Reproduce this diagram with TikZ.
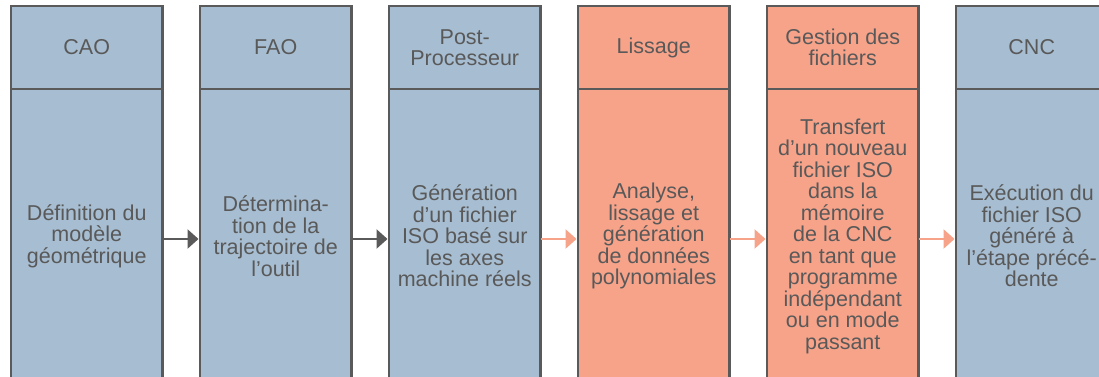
\documentclass[tikz,border=0pt]{standalone}
\usepackage{fontspec}
\setmainfont{Liberation Sans}
\usetikzlibrary{arrows.meta}
\definecolor{stepblue}{HTML}{A7BDD1}
\definecolor{stepsalmon}{HTML}{F6A38A}
\definecolor{edgegray}{HTML}{5A5A5A}
\definecolor{textgray}{HTML}{595959}

\begin{document}
\begin{tikzpicture}[
  x=1pt, y=1pt,
  cell/.style={draw=edgegray, line width=2.5pt, outer sep=0pt, inner sep=0pt,
    minimum width=151.5pt, text=textgray, align=center,
    font=\fontsize{21.5}{21.5}\selectfont},
  head/.style={cell, minimum height=83pt, anchor=north west},
  body/.style={cell, minimum height=294pt, anchor=north},
  cool/.style={fill=stepblue},
  warm/.style={fill=stepsalmon},
  flowdark/.style={draw=edgegray, line width=2.5pt, -{Triangle[length=11pt,width=19pt]}},
  flowwarm/.style={draw=stepsalmon, line width=2.5pt, -{Triangle[length=11pt,width=19pt]}}
]
\clip (0,0) rectangle (1099,-376);
\fill[white] (0,0) rectangle (1099,-376);

% column headers
\node[head, cool] (h1) at (11,-6)  {CAO};
\node[head, cool] (h2) at (200,-6) {FAO};
\node[head, cool] (h3) at (389,-6) {Post-\\Processeur};
\node[head, warm] (h4) at (578,-6) {Lissage};
\node[head, warm] (h5) at (767,-6) {Gestion des\\fichiers};
\node[head, cool] (h6) at (956,-6) {CNC};

% column bodies (they run on past the lower edge)
\node[body, cool] (b1) at (h1.south) {D\'efinition du\\mod\`ele\\g\'eom\'etrique};
\node[body, cool] (b2) at (h2.south) {D\'etermina-\\tion de la\\trajectoire de\\l’outil};
\node[body, cool] (b3) at (h3.south) {G\'en\'eration\\d’un fichier\\ISO bas\'e sur\\les axes\\machine r\'eels};
\node[body, warm] (b4) at (h4.south) {Analyse,\\lissage et\\g\'en\'eration\\de donn\'ees\\polynomiales};
\node[body, warm] (b5) at (h5.south) {Transfert\\d’un nouveau\\fichier ISO\\dans la\\m\'emoire\\de la CNC\\en tant que\\programme\\ind\'ependant\\ou en mode\\passant};
\node[body, cool] (b6) at (h6.south) {Ex\'ecution du\\fichier ISO\\g\'en\'er\'e \`a\\l’\'etape pr\'ec\'e-\\dente};

% flow between the steps
\draw[flowdark] ([yshift=-3pt]b1.east) -- ([xshift=-1.5pt,yshift=-3pt]b2.west);
\draw[flowdark] ([yshift=-3pt]b2.east) -- ([xshift=-1.5pt,yshift=-3pt]b3.west);
\draw[flowwarm] ([yshift=-3pt]b3.east) -- ([xshift=-1.5pt,yshift=-3pt]b4.west);
\draw[flowwarm] ([yshift=-3pt]b4.east) -- ([xshift=-1.5pt,yshift=-3pt]b5.west);
\draw[flowwarm] ([yshift=-3pt]b5.east) -- ([xshift=-1.5pt,yshift=-3pt]b6.west);
\end{tikzpicture}
\end{document}
